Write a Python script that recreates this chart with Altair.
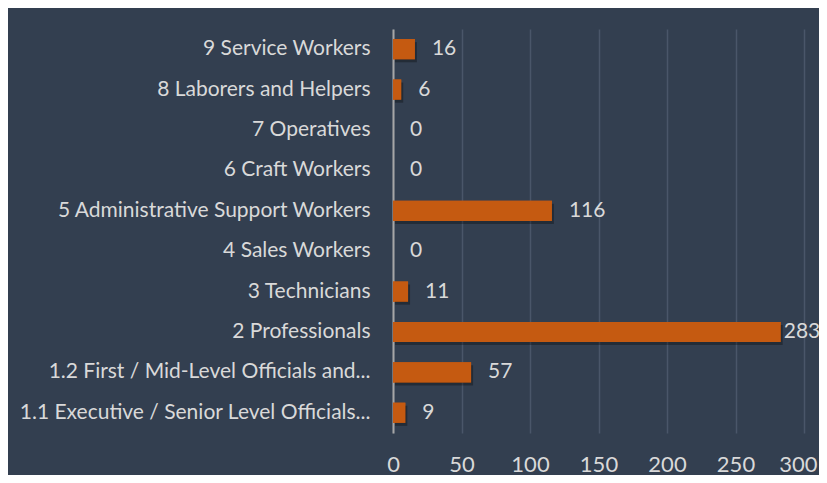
import altair as alt
import pandas as pd

categories = [
    "9 Service Workers",
    "8 Laborers and Helpers",
    "7 Operatives",
    "6 Craft Workers",
    "5 Administrative Support Workers",
    "4 Sales Workers",
    "3 Technicians",
    "2 Professionals",
    "1.2 First / Mid-Level Officials and...",
    "1.1 Executive / Senior Level Officials...",
]
values = [16, 6, 0, 0, 116, 0, 11, 283, 57, 9]
x_ticks = [0, 50, 100, 150, 200, 250, 300]

df = pd.DataFrame({"category": categories, "value": values})

FONT = "Lato"
TXT = "#D9D9D9"
BG = "#333F50"

y_enc = alt.Y(
    "category:N",
    sort=categories,
    title=None,
    scale=alt.Scale(paddingInner=0.5, paddingOuter=0.25),
    axis=alt.Axis(
        ticks=False,
        labelPadding=23,
        labelLimit=1000,
        labelColor=TXT,
        labelFont=FONT,
        labelFontSize=21,
        domainColor="#A6A6A6",
        domainWidth=2,
        grid=False,
    ),
)
x_enc = alt.X(
    "value:Q",
    title=None,
    scale=alt.Scale(domain=[0, 300], nice=False),
    axis=alt.Axis(
        values=x_ticks,
        ticks=False,
        domain=False,
        grid=True,
        gridColor="#4A5669",
        gridWidth=1.5,
        labelPadding=21,
        labelFlush=False,
        labelAlign={"condition": {"test": "datum.value == 300", "value": "right"}, "value": "center"},
        labelOffset={"condition": {"test": "datum.value == 300", "value": 13}, "value": 0},
        labelColor=TXT,
        labelFont=FONT,
        labelFontSize=22,
    ),
)

base = alt.Chart(df)

shadow = base.mark_bar(color="#000000", opacity=0.3, xOffset=2, yOffset=3, x2Offset=2, y2Offset=3).encode(
    y=alt.Y("category:N", sort=categories),
    x="value:Q",
)
bars = base.mark_bar(color="#C55A11").encode(y=y_enc, x=x_enc)
labels = base.mark_text(
    align="left", baseline="middle", dx=alt.expr("datum.value > 250 ? 3 : 17"),
    color=TXT, font=FONT, fontSize=21,
).encode(
    y=alt.Y("category:N", sort=categories),
    x="value:Q",
    text="value:Q",
)

chart = (
    alt.layer(bars, shadow, bars, labels)
    .properties(
        width=411,
        height=404,
        background=BG,
        padding={"left": 385, "top": 21, "right": 15, "bottom": 42},
        autosize=alt.AutoSizeParams(type="none"),
    )
    .configure_view(stroke=None)
)

chart.save("out.html", embed_options={"renderer": "svg", "actions": False})
